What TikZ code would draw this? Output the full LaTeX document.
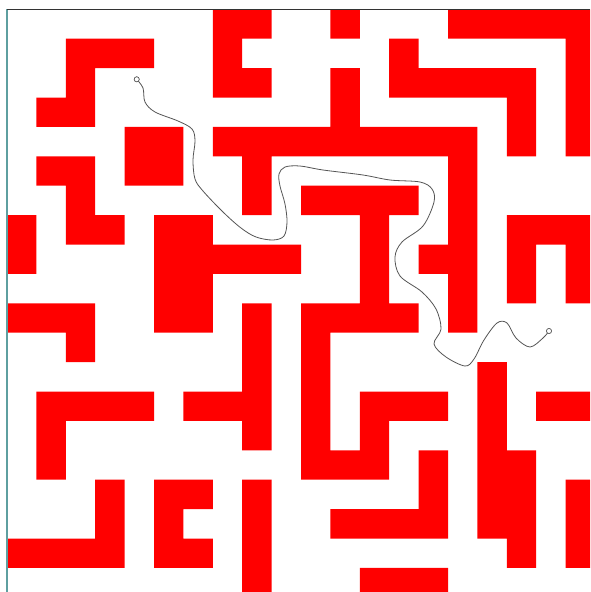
\documentclass[tikz,border=0pt]{standalone}
\usepackage{tikz}
\usetikzlibrary{calc}
\definecolor{mzRed}{HTML}{FF0000}
\definecolor{mzTeal}{HTML}{5E9FA0}
\definecolor{mzGrey}{HTML}{555555}
\tikzset{
  % one unit = one pixel of the source picture, y running down
  every picture/.append style = {x=1pt, y=-1pt},
  wallcell/.style  = {fill=mzRed},
  frameline/.style = {line width=1.3pt},
  trail/.style     = {mzGrey, line width=0.8pt, line cap=round, line join=round},
  trailend/.style  = {circle, draw=mzGrey, fill=white, line width=0.6pt,
                      inner sep=0pt, minimum size=5pt},
}

\begin{document}
\begin{tikzpicture}
  \useasboundingbox (0,0) rectangle (590,592);
  \clip (0,0) rectangle (590,592);
  \fill[white] (0,0) rectangle (590,592);
  % maze walls: cell size 29.4, grid corner at the frame corner
  \begin{scope}[shift={(7,9.3)}, scale=29.4]
    \fill[wallcell] \foreach \r/\cols in {
        0/{7,8,11,15,16,17,18,19},
        1/{2,3,4,7,13,19},
        2/{2,7,8,11,13,14,15,16,17,19},
        3/{1,2,11,17,19},
        4/{4,5,7,8,9,10,11,12,13,14,15,17,19},
        5/{1,2,4,5,8,15},
        6/{2,8,10,11,12,13,15},
        7/{0,2,3,5,6,12,15,17,18,19},
        8/{0,5,6,7,8,9,12,14,15,17,19},
        9/{5,6,12,15,17,19},
        10/{0,1,2,5,6,8,10,11,12,13,15},
        11/{2,8,10},
        12/{8,10,16},
        13/{1,2,3,4,6,7,8,10,12,13,14,16,18,19},
        14/{1,8,10,12,16},
        15/{1,10,11,12,14,16,17},
        16/{3,5,6,8,14,16,17,19},
        17/{3,5,8,11,12,13,14,16,17,19},
        18/{0,1,2,3,5,6,8,17,19},
        19/{8,12,13,14}}
      { \foreach \c in \cols { (\c,\r) rectangle ++(1,1) } };
  \end{scope}
  % frame edges
  \draw[frameline, mzTeal] (7,9.3) -- (7,592);
  \draw[frameline, black!80] (7,9.3) -- (590,9.3);
  % wandering trail from start to goal
  \node[trailend] (start) at (136.7,79.3) {};
  \node[trailend] (goal) at (549,331) {};
  \draw[trail] (start) plot[smooth, tension=0.55] coordinates {
      (136.7,79.3) (143,88) (145,102) (155,112) (178,121) (192,129) (195,141)
      (193,160) (195,179) (203,191) (223,212) (241,228) (256,237) (273,240)
      (284,236) (287,222) (285,204) (280,186) (279,174) (285,167) (300,166)
      (323,170) (363,175) (390,180) (420,182) (432,189) (434,202) (423,226)
      (402,242) (395,257) (400,276) (422,292) (436,309) (441,329) (434,344)
      (446,357) (465,366) (474,359) (484,340) (497,323) (507,323) (516,338)
      (530,347) (543,338) (549,331)};
  \node[trailend] at (start) {};
  \node[trailend] at (goal) {};
\end{tikzpicture}
\end{document}
